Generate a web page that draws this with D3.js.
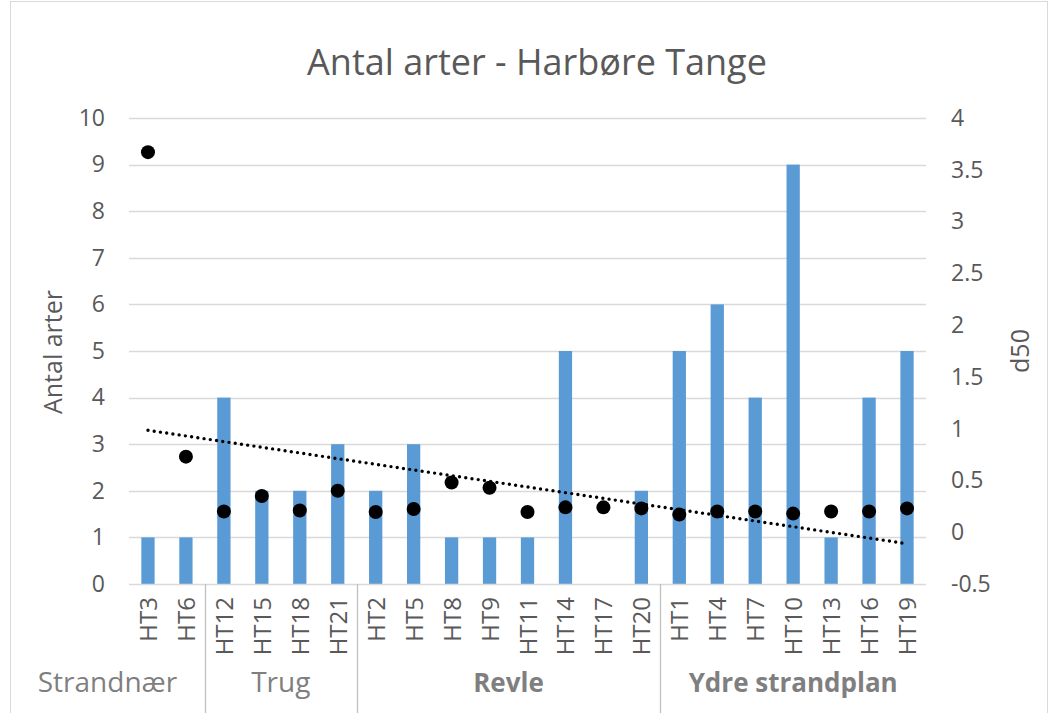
<!DOCTYPE html>
<html>
<head>
<meta charset="utf-8">
<script src="https://cdn.jsdelivr.net/npm/d3@7"></script>
<style>
  body { margin: 0; background: #fff; }
  text { font-family: "Open Sans", sans-serif; fill: #595959; }
</style>
</head>
<body>
<svg id="chart"></svg>
<script>
var stations = ["HT3", "HT6", "HT12", "HT15", "HT18", "HT21", "HT2", "HT5", "HT8", "HT9", "HT11",
                "HT14", "HT17", "HT20", "HT1", "HT4", "HT7", "HT10", "HT13", "HT16", "HT19"];
var antalArter = [1, 1, 4, 2, 2, 3, 2, 3, 1, 1, 1, 5, 0, 2, 5, 6, 4, 9, 1, 4, 5];
var d50 = [3.67, 0.73, 0.2, 0.35, 0.21, 0.4, 0.195, 0.224, 0.48, 0.43, 0.195,
           0.24, 0.24, 0.23, 0.17, 0.2, 0.2, 0.18, 0.2, 0.2, 0.23];
var groupNames = ["Strandnær", "Trug", "Revle", "Ydre strandplan"];
var groupSizes = [2, 4, 8, 7];
var groupBold = [false, false, true, true];
var leftTicks = [0, 1, 2, 3, 4, 5, 6, 7, 8, 9, 10];
var rightTicks = [-0.5, 0, 0.5, 1, 1.5, 2, 2.5, 3, 3.5, 4];

var W = 1055, H = 713;
var margin = { top: 118, right: 129, bottom: 129, left: 129 },
    width = 926 - margin.left,
    height = 584 - margin.top;

var svg = d3.select("#chart")
    .attr("width", W)
    .attr("height", H);

// chart border
svg.append("rect")
    .attr("x", 10.5).attr("y", 1.5)
    .attr("width", 1037).attr("height", 730)
    .attr("fill", "none")
    .attr("stroke", "#d9d9d9");

svg.append("text")
    .attr("x", 537).attr("y", 75)
    .attr("text-anchor", "middle")
    .style("font-size", "36px")
    .text("Antal arter - Harbøre Tange");

var g = svg.append("g")
    .attr("transform", "translate(" + margin.left + "," + margin.top + ")");

var x = d3.scaleBand()
    .domain(stations)
    .range([0, width])
    .paddingInner(0.65)
    .paddingOuter(0.325);

var y = d3.scaleLinear().domain([0, 10]).range([height, 0]);
var y2 = d3.scaleLinear().domain([-0.5, 4]).range([height, 0]);

// gridlines
g.append("g")
    .selectAll("line")
    .data(leftTicks.slice(1))
    .enter().append("line")
    .attr("x1", 0).attr("x2", width)
    .attr("y1", function(d) { return Math.round(y(d)) + 0.5; })
    .attr("y2", function(d) { return Math.round(y(d)) + 0.5; })
    .attr("stroke", "#d9d9d9")
    .attr("stroke-width", 1.3);

// bars
g.append("g")
    .selectAll("rect")
    .data(antalArter)
    .enter().append("rect")
    .attr("x", function(d, i) { return x(stations[i]); })
    .attr("y", function(d) { return y(d); })
    .attr("width", x.bandwidth())
    .attr("height", function(d) { return height - y(d); })
    .attr("fill", "#5b9bd5");

// x axis line
g.append("line")
    .attr("x1", 0).attr("x2", width)
    .attr("y1", height + 0.5).attr("y2", height + 0.5)
    .attr("stroke", "#d9d9d9")
    .attr("stroke-width", 1.3);

// left axis
var yAxis = g.append("g")
    .call(d3.axisLeft(y).tickValues(leftTicks).tickSize(0).tickPadding(24));
yAxis.select(".domain").remove();
yAxis.selectAll("text").style("font-size", "23px").style("fill", "#595959")
    .style("font-family", "'Open Sans', sans-serif");

// right axis
var y2Axis = g.append("g")
    .attr("transform", "translate(" + width + ",0)")
    .call(d3.axisRight(y2).tickValues(rightTicks).tickSize(0).tickPadding(25)
        .tickFormat(function(d) { return String(d); }));
y2Axis.select(".domain").remove();
y2Axis.selectAll("text").style("font-size", "23px").style("fill", "#595959")
    .style("font-family", "'Open Sans', sans-serif");

// station labels
g.append("g")
    .selectAll("text")
    .data(stations)
    .enter().append("text")
    .attr("transform", function(d) {
        return "translate(" + (x(d) + x.bandwidth() / 2 + 9) + "," + (height + 13) + ") rotate(-90)";
    })
    .attr("text-anchor", "end")
    .style("font-size", "24px")
    .text(function(d) { return d; });

// group separators and labels
var step = x.step();
var start = 0;
groupSizes.forEach(function(n, i) {
    var x0 = x(stations[start]) - x.paddingInner() * step / 2;
    var x1 = x(stations[start + n - 1]) + x.bandwidth() + x.paddingInner() * step / 2;
    if (i > 0) {
        g.append("line")
            .attr("x1", Math.round(x0) + 0.5).attr("x2", Math.round(x0) + 0.5)
            .attr("y1", height).attr("y2", H - margin.top + 10)
            .attr("stroke", "#bfbfbf")
            .attr("stroke-width", 1.3);
    }
    var cx = i === 0 ? (x1 - margin.left + 10) / 2 : (x0 + x1) / 2;
    g.append("text")
        .attr("x", cx)
        .attr("y", height + 108)
        .attr("text-anchor", "middle")
        .style("font-size", groupBold[i] ? "26px" : "28px")
        .style("font-weight", groupBold[i] ? "bold" : "normal")
        .style("fill", "#7f7f7f")
        .text(groupNames[i]);
    start += n;
});

// linear trendline of d50 (least squares, as in the spreadsheet)
var idx = d3.range(1, d50.length + 1);
var mx = d3.mean(idx), my = d3.mean(d50);
var slope = d3.sum(idx, function(v, i) { return (v - mx) * (d50[i] - my); }) /
            d3.sum(idx, function(v) { return (v - mx) * (v - mx); });
var icpt = my - slope * mx;
var cx0 = x(stations[0]) + x.bandwidth() / 2,
    cx1 = x(stations[stations.length - 1]) + x.bandwidth() / 2;

g.append("line")
    .attr("x1", cx0).attr("y1", y2(icpt + slope * 1))
    .attr("x2", cx1).attr("y2", y2(icpt + slope * d50.length))
    .attr("stroke", "#000")
    .attr("stroke-width", 3.4)
    .attr("stroke-linecap", "round")
    .attr("stroke-dasharray", "0,6.3");

// d50 dots
g.append("g")
    .selectAll("circle")
    .data(d50)
    .enter().append("circle")
    .attr("cx", function(d, i) { return x(stations[i]) + x.bandwidth() / 2; })
    .attr("cy", function(d) { return y2(d); })
    .attr("r", 7)
    .attr("fill", "#000");

// axis titles
svg.append("text")
    .attr("transform", "translate(62,352) rotate(-90)")
    .attr("text-anchor", "middle")
    .style("font-size", "25px")
    .text("Antal arter");

svg.append("text")
    .attr("transform", "translate(1029,351) rotate(-90)")
    .attr("text-anchor", "middle")
    .style("font-size", "25px")
    .text("d50");
</script>
</body>
</html>
